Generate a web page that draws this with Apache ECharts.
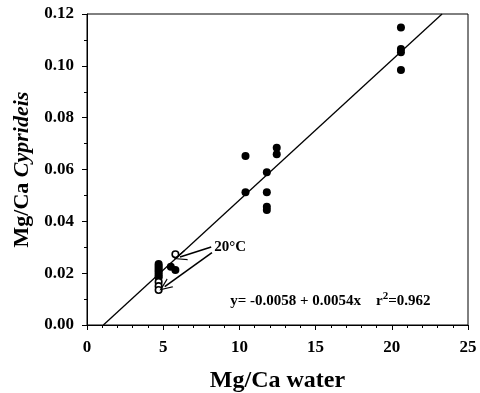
<!DOCTYPE html>
<html>
<head>
<meta charset="utf-8">
<script src="https://cdn.jsdelivr.net/npm/echarts@6/dist/echarts.min.js"></script>
<style>
  html, body { margin: 0; padding: 0; background: #fff; }
  #chart { width: 480px; height: 393px; }
</style>
</head>
<body>
<div id="chart"></div>
<script>
// Mg/Ca of Cyprideis valves against Mg/Ca of the host water
const filledX = [4.7, 4.7, 4.7, 4.7, 4.7, 4.7, 4.7, 4.7, 5.5, 5.8,
                 10.4, 10.4, 11.8, 11.8, 11.8, 11.8, 12.45, 12.45,
                 20.6, 20.6, 20.6, 20.6];
const filledY = [0.0235, 0.0228, 0.0220, 0.0212, 0.0205, 0.0198, 0.0190, 0.0183, 0.0225, 0.0212,
                 0.0652, 0.0512, 0.0589, 0.0512, 0.0456, 0.0444, 0.0684, 0.0659,
                 0.1148, 0.1065, 0.1052, 0.0984];
// 20 °C cultures (open symbols)
const openX = [4.7, 4.7, 4.7, 5.8];
const openY = [0.0166, 0.0150, 0.0135, 0.0273];
// regression: y = a + b x
const fitCoef = [-0.0058, 0.0054];
const xTicks = [0, 5, 10, 15, 20, 25];
const yTicks = [0.00, 0.02, 0.04, 0.06, 0.08, 0.10, 0.12];

const [a, b] = fitCoef;
const yMax = yTicks[yTicks.length - 1];
const fitLine = [[-a / b, 0], [(yMax - a) / b, yMax]];

const serif = '"Liberation Serif", "DejaVu Serif", serif';
const arrowHead = 'path://M0,0 L5,11 L3.8,11 L0,2.6 L-3.8,11 L-5,11 Z';

const chart = echarts.init(document.getElementById('chart'));
chart.setOption({
  animation: false,
  grid: { left: 87, right: 12, top: 14, bottom: 68, containLabel: false, outerBoundsMode: 'none',
          show: true, borderColor: '#000', borderWidth: 1 },
  xAxis: {
    type: 'value', min: xTicks[0], max: xTicks[xTicks.length - 1], interval: 5,
    name: 'Mg/Ca water', nameLocation: 'middle', nameGap: 44,
    nameTextStyle: { fontFamily: serif, fontWeight: 'bold', fontSize: 24, color: '#000' },
    axisLine: { lineStyle: { color: '#000', width: 1 } },
    axisTick: { length: 5, lineStyle: { color: '#000' } },
    minorTick: { show: true, splitNumber: 5, length: 3, lineStyle: { color: '#000' } },
    axisLabel: { fontFamily: serif, fontWeight: 'bold', fontSize: 17, color: '#000', margin: 14,
                 formatter: v => String(v) },
    splitLine: { show: false }
  },
  yAxis: {
    type: 'value', min: yTicks[0], max: yMax, interval: 0.02,
    name: '{n|Mg/Ca }{i|Cyprideis}', nameLocation: 'middle', nameGap: 54, nameRotate: 90,
    nameTextStyle: {
      rich: {
        n: { fontFamily: serif, fontWeight: 'bold', fontSize: 22, color: '#000' },
        i: { fontFamily: serif, fontWeight: 'bold', fontStyle: 'italic', fontSize: 22, color: '#000' }
      }
    },
    axisLine: { lineStyle: { color: '#000', width: 1 } },
    axisTick: { length: 5, lineStyle: { color: '#000' } },
    minorTick: { show: true, splitNumber: 2, length: 3, lineStyle: { color: '#000' } },
    axisLabel: { fontFamily: serif, fontWeight: 'bold', fontSize: 17, color: '#000', margin: 13,
                 formatter: v => v.toFixed(2) },
    splitLine: { show: false }
  },
  series: [
    {
      type: 'line', data: fitLine, symbol: 'none', silent: true,
      lineStyle: { color: '#000', width: 1.3 }, z: 1
    },
    {
      type: 'scatter', data: filledX.map((x, i) => [x, filledY[i]]),
      symbol: 'circle', symbolSize: 8, itemStyle: { color: '#000', opacity: 1 }, z: 3
    },
    {
      type: 'scatter', data: openX.map((x, i) => [x, openY[i]]),
      symbol: 'circle', symbolSize: 6.5,
      itemStyle: { color: '#fff', borderColor: '#000', borderWidth: 1.6, opacity: 1 }, z: 4,
      markLine: {
        silent: true, symbol: ['none', arrowHead], symbolSize: [11, 13],
        lineStyle: { color: '#000', width: 1.6, type: 'solid' }, label: { show: false },
        data: [
          [{ coord: [8.15, 0.0301] }, { coord: [6.1, 0.0262] }],
          [{ coord: [8.2, 0.0279] }, { coord: [5.1, 0.0148] }]
        ]
      },
      markPoint: {
        silent: true, symbol: 'circle', symbolSize: 0,
        data: [
          { coord: [8.35, 0.0299], label: { show: true, position: 'right', distance: 0,
            formatter: '20°C', fontFamily: serif, fontWeight: 'bold', fontSize: 15, color: '#000' } },
          { coord: [9.4, 0.0094], label: { show: true, position: 'right', distance: 0,
            formatter: '{r|y= -0.0058 + 0.0054x    r}{s|2}{r|=0.962}',
            fontFamily: serif, fontWeight: 'bold', fontSize: 15, color: '#000',
            rich: {
              r: { fontFamily: serif, fontWeight: 'bold', fontSize: 15, color: '#000' },
              s: { fontFamily: serif, fontWeight: 'bold', fontSize: 11, color: '#000', verticalAlign: 'top', padding: [0, 0, 8, 0] }
            } } }
        ]
      }
    }
  ]
});
</script>
</body>
</html>
